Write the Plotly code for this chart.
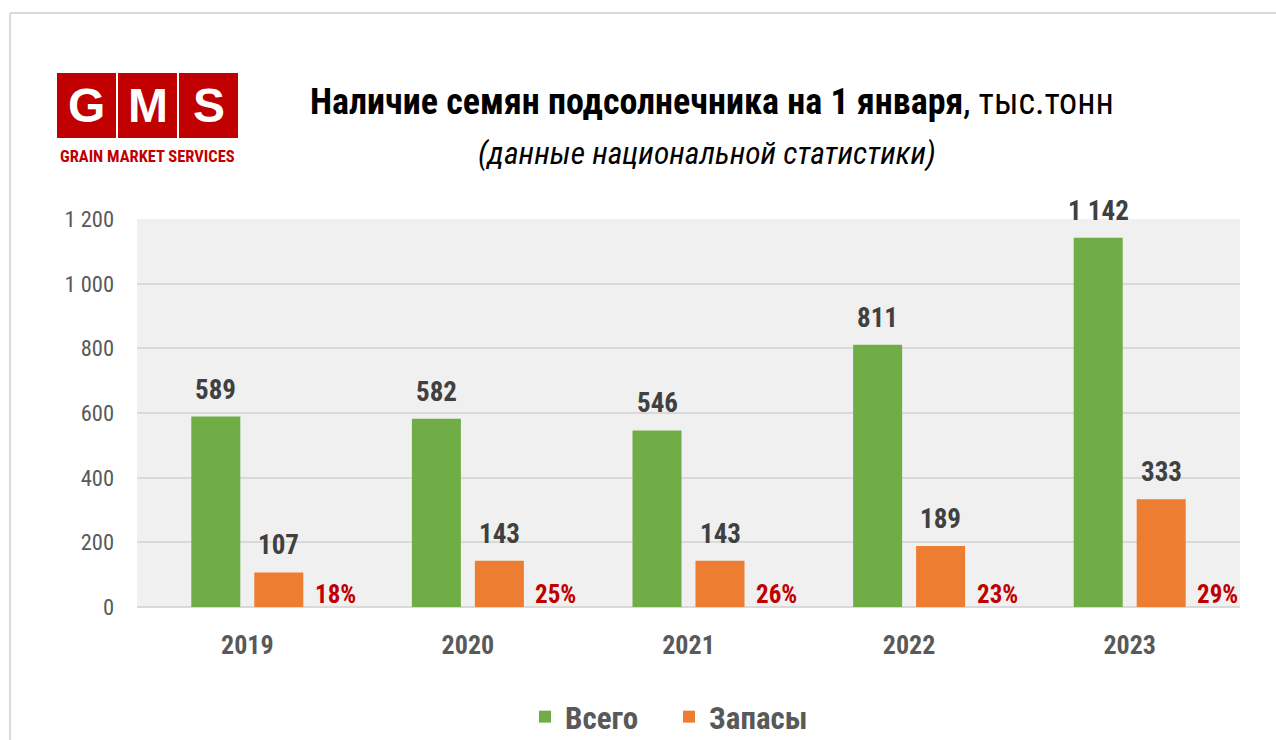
import plotly.graph_objects as go

W, H = 1276, 740

years = ["2019", "2020", "2021", "2022", "2023"]
total = [589, 582, 546, 811, 1142]
stocks = [107, 143, 143, 189, 333]
share_labels = ["18%", "25%", "26%", "23%", "29%"]
total_labels = ["589", "582", "546", "811", "1 142"]
stocks_labels = ["107", "143", "143", "189", "333"]
y_tickvals = [0, 200, 400, 600, 800, 1000, 1200]
y_ticktext = ["0", "200", "400", "600", "800", "1 000", "1 200"]

NARROW = "Roboto Condensed, Liberation Sans Narrow, Arial Narrow, sans-serif"
GREEN = "#70ad47"
ORANGE = "#ed7d31"
RED = "#c00000"
GRAY = "#595959"
DARK = "#404040"

def px(x):
    return x / W

def py(y):
    return 1 - y / H

fig = go.Figure()
fig.add_trace(go.Bar(x=years, y=total, name="Всего", marker=dict(color=GREEN, line=dict(width=0))))
fig.add_trace(go.Bar(x=years, y=stocks, name="Запасы", marker=dict(color=ORANGE, line=dict(width=0))))

ann = []
for i, yr in enumerate(years):
    ann.append(dict(x=i, y=total[i], xref="x", yref="y", text=total_labels[i], showarrow=False,
                    xanchor="center", yanchor="bottom", xshift=-31.5, yshift=9,
                    font=dict(family=NARROW, size=27, color=DARK, weight="bold")))
    ann.append(dict(x=i, y=stocks[i], xref="x", yref="y", text=stocks_labels[i], showarrow=False,
                    xanchor="center", yanchor="bottom", xshift=31.5, yshift=9,
                    font=dict(family=NARROW, size=27, color=DARK, weight="bold")))
    ann.append(dict(x=i, y=0, xref="x", yref="y", text=share_labels[i], showarrow=False,
                    xanchor="center", yanchor="bottom", xshift=88, yshift=-4,
                    font=dict(family=NARROW, size=25, color=RED, weight="bold")))

# title
ann.append(dict(x=px(712), y=py(102), xref="paper", yref="paper", showarrow=False,
                xanchor="center", yanchor="middle",
                text="<b>Наличие семян подсолнечника на 1 января</b>, тыс.тонн",
                font=dict(family=NARROW, size=36, color="#000000")))
ann.append(dict(x=px(707), y=py(153), xref="paper", yref="paper", showarrow=False,
                xanchor="center", yanchor="middle",
                text="<i>(данные национальной статистики)</i>",
                font=dict(family=NARROW, size=31.5, color="#000000")))

# logo
shapes = []
for (x0, x1), letter in zip([(57, 116), (118, 177), (179, 238)], ["G", "M", "S"]):
    shapes.append(dict(type="rect", xref="paper", yref="paper", x0=px(x0), x1=px(x1),
                       y0=py(138), y1=py(73), fillcolor=RED, line=dict(width=0), layer="above"))
    ann.append(dict(x=px((x0 + x1) / 2), y=py(106), xref="paper", yref="paper", showarrow=False,
                    xanchor="center", yanchor="middle", text="<b>%s</b>" % letter,
                    font=dict(family="Liberation Sans, Arial, sans-serif", size=48, color="#ffffff")))
ann.append(dict(x=px(147), y=py(156), xref="paper", yref="paper", showarrow=False,
                xanchor="center", yanchor="middle", text="<b>GRAIN MARKET SERVICES</b>",
                font=dict(family=NARROW, size=16.5, color=RED)))

# frame
shapes.append(dict(type="line", xref="paper", yref="paper", x0=px(10), x1=1.0, y0=py(13), y1=py(13),
                   line=dict(color="#d9d9d9", width=2)))
shapes.append(dict(type="line", xref="paper", yref="paper", x0=px(10), x1=px(10), y0=0, y1=py(13),
                   line=dict(color="#d9d9d9", width=2)))

fig.update_layout(
    width=W, height=H,
    margin=dict(l=0, r=0, t=0, b=0, autoexpand=False),
    paper_bgcolor="#ffffff",
    plot_bgcolor="#f0f0f0",
    barmode="group",
    bargap=0.429,
    bargroupgap=0.222,
    annotations=ann,
    shapes=shapes,
    showlegend=True,
    legend=dict(orientation="h", x=px(525), y=py(717), xanchor="left", yanchor="middle",
                entrywidth=99, entrywidthmode="pixels",
                font=dict(family=NARROW, size=31, color=GRAY, weight="bold"),
                bgcolor="rgba(0,0,0,0)"),
    xaxis=dict(type="category", range=[-0.5, 4.5], autorange=False,
               domain=[px(137), px(1240)], showgrid=False, zeroline=False,
               showline=False, ticks="", automargin=False,
               tickfont=dict(family=NARROW, size=26, color=GRAY, weight="bold"),
               ticklabelstandoff=20, fixedrange=True),
    yaxis=dict(domain=[py(607), py(219)], range=[0, 1200], autorange=False,
               tickvals=y_tickvals, ticktext=y_ticktext,
               showgrid=True, gridcolor="#d9d9d9", gridwidth=1.5, zeroline=True,
               zerolinecolor="#d9d9d9", zerolinewidth=1.5, showline=False, ticks="",
               automargin=False,
               tickfont=dict(family=NARROW, size=22.5, color=GRAY), ticklabelstandoff=22,
               fixedrange=True),
    font=dict(family=NARROW),
)

fig.write_html("out.html", config={"displayModeBar": False},
               post_script="document.body.style.margin='0';document.body.style.overflow='hidden';")
